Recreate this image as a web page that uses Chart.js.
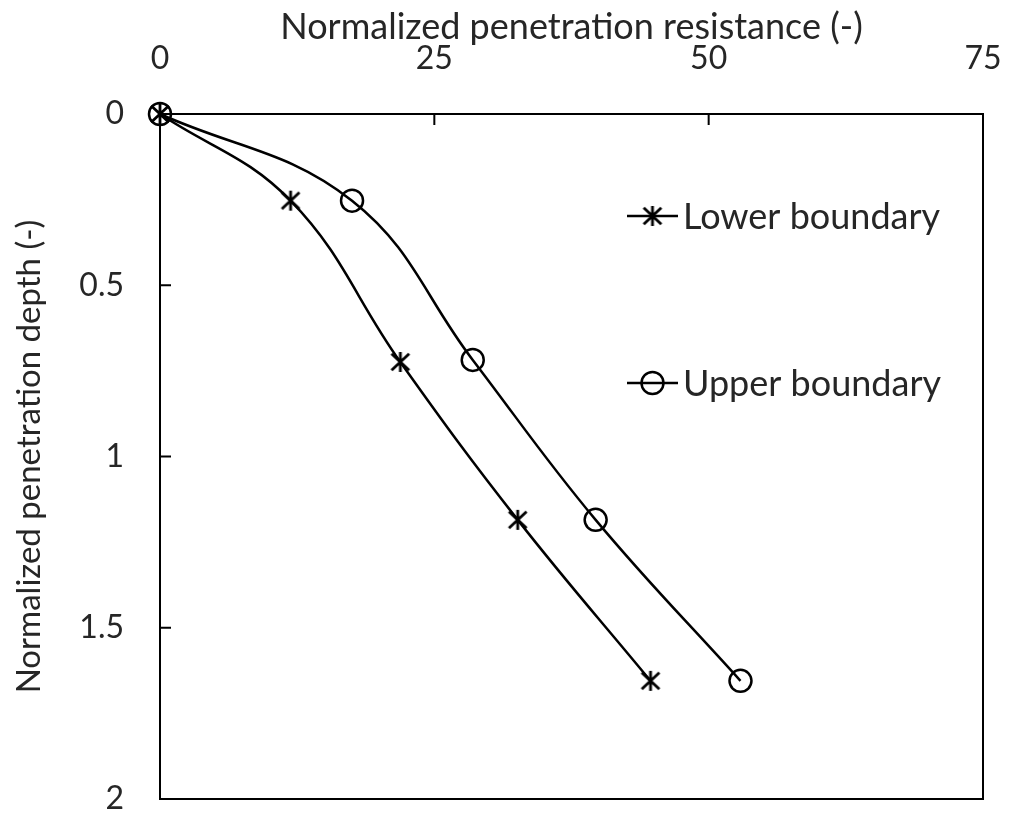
<!DOCTYPE html>
<html>
<head>
<meta charset="utf-8">
<script src="https://cdn.jsdelivr.net/npm/chart.js@4/dist/chart.umd.min.js"></script>
<style>
  html, body { margin: 0; padding: 0; background: #fff; }
</style>
</head>
<body>
<canvas id="myChart" width="1012" height="813"></canvas>
<script>
// Dados do gráfico
const xTicks = [0, 25, 50, 75];
const yTicks = [0, 0.5, 1, 1.5, 2];
const yTickLabels = ['0', '0.5', '1', '1.5', '2'];
const seriesNames = ['Lower boundary', 'Upper boundary'];
const lowerX = [0, 11.9, 21.9, 32.6, 44.7];
const lowerY = [0, 0.253, 0.724, 1.185, 1.655];
const upperX = [0, 17.5, 28.5, 39.7, 52.9];
const upperY = [0, 0.253, 0.718, 1.185, 1.655];

const FONT = 'Lato';
const TXT = '#262626';

// asterisco (X + traço vertical) como no Excel
function makeStar(size) {
    const cv = document.createElement('canvas');
    cv.width = size; cv.height = size;
    const g = cv.getContext('2d');
    const m = size / 2, r = size / 2 - 2;
    g.strokeStyle = '#000';
    g.lineWidth = 2.8;
    g.beginPath();
    g.moveTo(m - r * 0.8, m - r * 0.75); g.lineTo(m + r * 0.8, m + r * 0.75);
    g.moveTo(m + r * 0.8, m - r * 0.75); g.lineTo(m - r * 0.8, m + r * 0.75);
    g.moveTo(m, m - r * 0.9); g.lineTo(m, m + r * 0.9);
    g.stroke();
    return cv;
}
const starImg = makeStar(26);

function toPoints(xs, ys) {
    return xs.map((x, i) => ({ x: x, y: ys[i] }));
}

// sem folga extra dos rótulos nas pontas
function noPad(s) {
    s.paddingLeft = 0; s.paddingRight = 0;
    s.paddingTop = 0; s.paddingBottom = 0;
}

const data = {
    datasets: [{
        label: seriesNames[0],
        data: toPoints(lowerX, lowerY),
        showLine: true,
        borderColor: '#000',
        borderWidth: 2.5,
        tension: 0.4,
        pointStyle: starImg,
        pointRadius: 13,
        clip: false
    }, {
        label: seriesNames[1],
        data: toPoints(upperX, upperY),
        showLine: true,
        borderColor: '#000',
        borderWidth: 2.5,
        tension: 0.4,
        pointStyle: 'circle',
        pointRadius: 11,
        pointBorderWidth: 2.5,
        pointBackgroundColor: 'rgba(0,0,0,0)',
        clip: false
    }]
};

// moldura, marcas internas e legenda
const extras = {
    id: 'extras',
    beforeDatasetsDraw(chart) {
        const c = chart.ctx, a = chart.chartArea;
        const sx = chart.scales.x, sy = chart.scales.y;
        c.save();
        c.strokeStyle = '#000';
        c.lineWidth = 2;
        c.strokeRect(a.left, a.top, a.right - a.left, a.bottom - a.top);
        c.beginPath();
        xTicks.forEach(v => {
            const p = sx.getPixelForValue(v);
            c.moveTo(p, a.top); c.lineTo(p, a.top + 11);
        });
        yTicks.forEach(v => {
            const p = sy.getPixelForValue(v);
            c.moveTo(a.left, p); c.lineTo(a.left + 11, p);
        });
        c.stroke();
        c.restore();
    },
    afterDraw(chart) {
        const c = chart.ctx;
        const rows = [{ y: 216, star: true }, { y: 383, star: false }];
        c.save();
        c.font = '36px ' + FONT;
        c.fillStyle = TXT;
        c.textBaseline = 'middle';
        rows.forEach((r, i) => {
            c.strokeStyle = '#000';
            c.lineWidth = 2.5;
            c.beginPath();
            c.moveTo(627, r.y); c.lineTo(678, r.y);
            c.stroke();
            if (r.star) {
                c.drawImage(starImg, 652.5 - 13, r.y - 13);
            } else {
                c.beginPath();
                c.arc(652.5, r.y, 11, 0, Math.PI * 2);
                c.stroke();
            }
            c.fillText(seriesNames[i], 683, r.y + 1);
        });
        c.restore();
    }
};

const options = {
    responsive: false,
    animation: false,
    layout: { autoPadding: false, padding: { left: 0, right: 29, top: 0, bottom: 14 } },
    plugins: {
        legend: { display: false },
        tooltip: { enabled: false }
    },
    scales: {
        x: {
            type: 'linear',
            position: 'top',
            min: 0, max: 75,
            afterBuildTicks: s => { s.ticks = xTicks.map(v => ({ value: v })); },
            afterFit: s => { s.height = 114; noPad(s); },
            grid: { display: false, drawTicks: false },
            border: { display: false },
            ticks: { color: TXT, font: { family: FONT, size: 32 }, padding: 36, maxRotation: 0 },
            title: {
                display: true,
                text: 'Normalized penetration resistance (-)',
                color: TXT,
                font: { family: FONT, size: 36 },
                padding: { top: 6, bottom: 0 }
            }
        },
        y: {
            type: 'linear',
            reverse: true,
            min: 0, max: 2,
            afterBuildTicks: s => { s.ticks = yTicks.map(v => ({ value: v })); },
            afterFit: s => { s.width = 160; noPad(s); },
            grid: { display: false, drawTicks: false },
            border: { display: false },
            ticks: {
                color: TXT,
                font: { family: FONT, size: 32 },
                padding: 36,
                callback: (v, i) => yTickLabels[i]
            },
            title: {
                display: true,
                text: 'Normalized penetration depth (-)',
                color: TXT,
                font: { family: FONT, size: 33 },
                padding: { top: 10, bottom: 0 }
            }
        }
    }
};

const ctx = document.getElementById('myChart').getContext('2d');
const myChart = new Chart(ctx, {
    type: 'scatter',
    data: data,
    options: options,
    plugins: [extras]
});
</script>
</body>
</html>
